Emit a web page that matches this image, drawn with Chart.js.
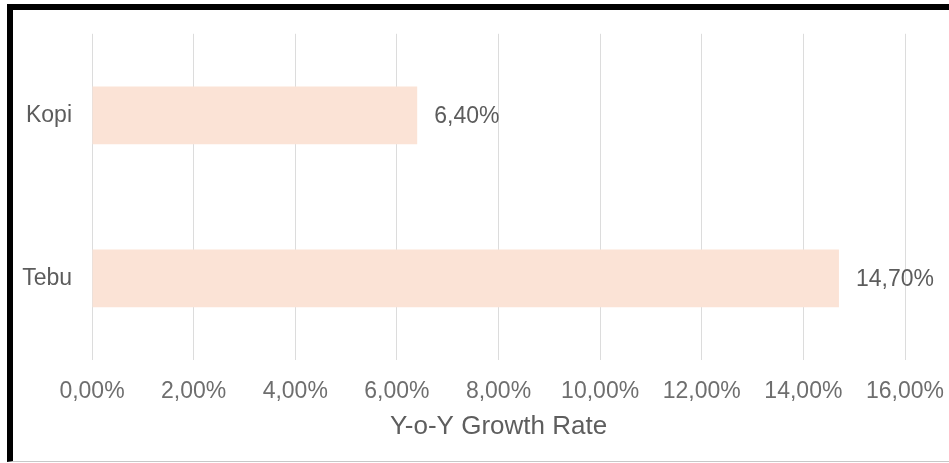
<!DOCTYPE html>
<html>
<head>
<meta charset="utf-8">
<script src="https://cdn.jsdelivr.net/npm/chart.js@4/dist/chart.umd.min.js"></script>
<style>
  html, body { margin: 0; padding: 0; background: #fff; }
  #wrap { position: relative; width: 949px; height: 463px; overflow: hidden; }
  #frame {
    position: absolute; left: 7px; top: 4px; right: -2px; height: 458px;
    border-left: 6px solid #000; border-top: 6px solid #000;
    border-bottom: 1px solid #c8c8c8; box-sizing: border-box;
    pointer-events: none;
  }
  canvas { position: absolute; left: 0; top: 0; }
</style>
</head>
<body>
<div id="wrap">
  <canvas id="growthChart" width="949" height="463"></canvas>
  <div id="frame"></div>
</div>
<script>
const categories = ["Kopi", "Tebu"];
const growthRates = [6.4, 14.7];
const tickValues = [0, 2, 4, 6, 8, 10, 12, 14, 16];

const FONT = "'Liberation Sans', Arial, sans-serif";
const fmtPct = v => v.toFixed(2).replace(".", ",") + "%";

// value text just past the end of each bar
const valueLabels = {
  id: "valueLabels",
  afterDatasetsDraw(chart) {
    const ctx = chart.ctx;
    const meta = chart.getDatasetMeta(0);
    ctx.save();
    ctx.font = "23px " + FONT;
    ctx.fillStyle = "#5c5c5c";
    ctx.textAlign = "left";
    ctx.textBaseline = "middle";
    meta.data.forEach((bar, i) => {
      ctx.fillText(fmtPct(growthRates[i]), bar.x + 17, bar.y + 1);
    });
    ctx.restore();
  }
};

const ctx = document.getElementById("growthChart").getContext("2d");
new Chart(ctx, {
  type: "bar",
  data: {
    labels: categories,
    datasets: [{
      data: growthRates,
      backgroundColor: "#fbe3d6",
      borderWidth: 0,
      barPercentage: 0.354,
      categoryPercentage: 1
    }]
  },
  options: {
    indexAxis: "y",
    responsive: false,
    animation: false,
    layout: { padding: { top: 31, right: 44, left: 0, bottom: 0 } },
    plugins: {
      legend: { display: false },
      tooltip: { enabled: false }
    },
    scales: {
      x: {
        min: 0,
        max: 16,
        afterBuildTicks: scale => {
          scale.ticks = tickValues.map(v => ({ value: v }));
        },
        afterFit: scale => {
          scale.height = 103;
          scale.paddingLeft = 0;
          scale.paddingRight = 0;
        },
        grid: { color: "#dcdcdc", lineWidth: 1, drawTicks: false },
        border: { display: false },
        ticks: {
          padding: 18,
          maxRotation: 0,
          color: "#6e6e6e",
          font: { family: FONT, size: 23 },
          callback: v => fmtPct(v)
        },
        title: {
          display: true,
          text: "Y-o-Y Growth Rate",
          color: "#5e5e5e",
          font: { family: FONT, size: 26 },
          padding: { top: 4, bottom: 21 }
        }
      },
      y: {
        afterFit: scale => { scale.width = 92; },
        grid: { display: false, drawTicks: false },
        border: { display: false },
        ticks: {
          padding: 20,
          color: "#5c5c5c",
          font: { family: FONT, size: 23 }
        }
      }
    }
  },
  plugins: [valueLabels]
});
</script>
</body>
</html>
